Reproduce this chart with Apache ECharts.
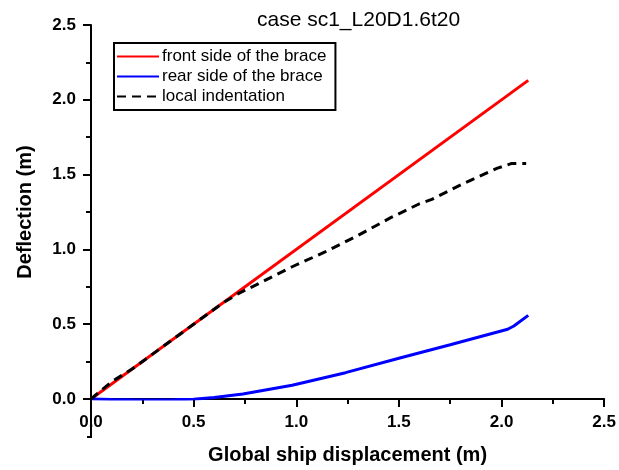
<!DOCTYPE html>
<html>
<head>
<meta charset="utf-8">
<script src="https://cdn.jsdelivr.net/npm/echarts@6/dist/echarts.min.js"></script>
<style>
  html, body { margin: 0; padding: 0; background: #fff; }
  #chart { width: 619px; height: 470px; }
</style>
</head>
<body>
<div id="chart"></div>
<script>
// values
var front_x = [0, 2.13];
var front_y = [0, 2.13];

var rear_x = [0, 0.1, 0.2, 0.3, 0.4, 0.5, 0.6, 0.74, 0.98, 1.24, 1.5, 1.75, 2.03, 2.06, 2.13];
var rear_y = [0, -0.003, -0.005, -0.006, -0.005, -0.002, 0.01, 0.033, 0.092, 0.176, 0.272, 0.363, 0.466, 0.488, 0.559];

var indent_x = [0, 0.1, 0.2, 0.3, 0.4, 0.5, 0.6, 0.64, 0.72, 0.82, 0.98, 1.14, 1.3, 1.46, 1.6, 1.66, 1.82, 1.98, 2.05, 2.12];
var indent_y = [0, 0.115, 0.2, 0.3, 0.4, 0.5, 0.6, 0.64, 0.706, 0.774, 0.884, 0.983, 1.093, 1.212, 1.305, 1.334, 1.444, 1.543, 1.575, 1.575];

var x_ticks = [0, 2.5, 0.5];
var y_ticks = [0, 2.5, 0.5];

function pairs(xs, ys) {
	var out = [];
	for (var i = 0; i < xs.length; i++) out.push([xs[i], ys[i]]);
	return out;
}

var chart = echarts.init(document.getElementById('chart'));

var axisCommon = {
	axisLine: { show: true, onZero: false, lineStyle: { color: '#000', width: 2 } },
	axisTick: { show: true, inside: false, length: 8, lineStyle: { color: '#000', width: 2 } },
	minorTick: { show: true, splitNumber: 2, length: 5, lineStyle: { color: '#000', width: 2 } },
	splitLine: { show: false },
	nameLocation: 'middle',
	nameTextStyle: { fontFamily: 'Liberation Sans', fontWeight: 'bold', fontSize: 20, color: '#000' }
};

var labelStyle = {
	fontFamily: 'Liberation Sans', fontWeight: 'bold', fontSize: 17, color: '#000',
	formatter: function (v) { return v.toFixed(1); }
};

option = {
	animation: false,
	title: {
		text: 'case sc1_L20D1.6t20',
		left: 257,
		top: 10,
		padding: 0,
		textStyle: { fontFamily: 'Liberation Sans', fontWeight: 'normal', fontSize: 21, color: '#000' }
	},
	grid: { left: 91, right: 11, top: 25, bottom: 66, containLabel: false },
	legend: {
		orient: 'vertical',
		left: 114,
		top: 43,
		padding: [5, 9, 5, 2],
		itemWidth: 42,
		itemHeight: 14,
		itemGap: 3,
		itemStyle: { opacity: 0 },
		borderColor: '#000',
		borderWidth: 2,
		borderRadius: 0,
		textStyle: { fontFamily: 'Liberation Sans', fontSize: 17, color: '#000', padding: [0, 0, 0, -2] },
		data: ['front side of the brace', 'rear side of the brace', 'local indentation']
	},
	xAxis: Object.assign({}, axisCommon, {
		type: 'value',
		min: x_ticks[0],
		max: x_ticks[1],
		interval: x_ticks[2],
		name: 'Global ship displacement (m)',
		nameGap: 46,
		axisLabel: Object.assign({ margin: 15 }, labelStyle)
	}),
	yAxis: Object.assign({}, axisCommon, {
		type: 'value',
		min: y_ticks[0],
		max: y_ticks[1],
		interval: y_ticks[2],
		name: 'Deflection (m)',
		nameGap: 56,
		axisLabel: Object.assign({ margin: 15 }, labelStyle)
	}),
	series: [
		{
			name: 'front side of the brace',
			type: 'line',
			data: pairs(front_x, front_y),
			showSymbol: false,
			symbol: 'none',
			color: '#ff0000',
			lineStyle: { color: '#ff0000', width: 3 }
		},
		{
			name: 'rear side of the brace',
			type: 'line',
			data: pairs(rear_x, rear_y),
			showSymbol: false,
			symbol: 'none',
			color: '#0000ff',
			lineStyle: { color: '#0000ff', width: 3 }
		},
		{
			name: 'local indentation',
			type: 'line',
			data: pairs(indent_x, indent_y),
			showSymbol: false,
			symbol: 'none',
			color: '#000',
			lineStyle: { color: '#000', width: 3, type: [9, 6] }
		}
	]
};

chart.setOption(option);

// the y axis line runs on a little below the x axis in the original
var origin = chart.convertToPixel({ gridIndex: 0 }, [0, 0]);
chart.setOption({
	graphic: [{
		type: 'polyline',
		shape: { points: [[origin[0], origin[1]], [origin[0], origin[1] + 38], [origin[0] - 4, origin[1] + 38]] },
		style: { stroke: '#000', lineWidth: 2, fill: null }
	}]
});
</script>
</body>
</html>
